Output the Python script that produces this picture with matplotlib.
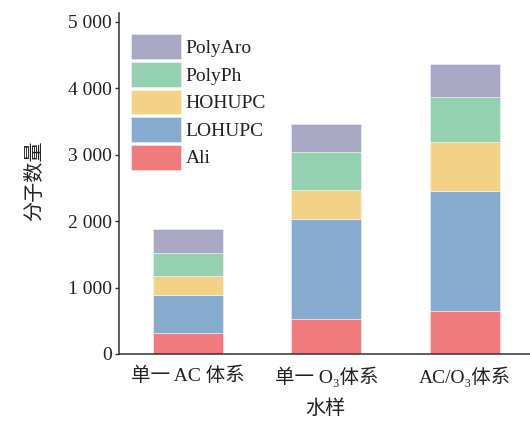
import numpy as np
import matplotlib
matplotlib.use("Agg")
import matplotlib.pyplot as plt
from matplotlib.ticker import FuncFormatter

# ---- data ----
groups = ["单一 AC 体系", "单一 O\u2083体系", "AC/O\u2083体系"]
series = ["Ali", "LOHUPC", "HOHUPC", "PolyPh", "PolyAro"]
ali = [320, 527, 648]
lohupc = [573, 1506, 1807]
hohupc = [277, 427, 727]
polyph = [351, 572, 688]
polyaro = [362, 427, 497]
colors = ["#F07A7C", "#86ABCE", "#F3D287", "#93D1B1", "#A8A8C4"]

SERIF = ["Liberation Serif", "Noto Sans CJK SC", "DejaVu Sans"]
plt.rcParams["font.family"] = SERIF

DPI = 100
fig = plt.figure(figsize=(530 / DPI, 430 / DPI), dpi=DPI, facecolor="white")
ax = fig.add_axes([119 / 530, 76 / 430, 411 / 530, 341 / 430])

x = np.arange(len(groups))
bottom = np.zeros(len(groups))
handles = []
for name, vals, col in zip(series, [ali, lohupc, hohupc, polyph, polyaro], colors):
    b = ax.bar(x, vals, width=0.505, bottom=bottom, color=col,
               edgecolor=(1, 1, 1, 0.5), linewidth=0.6, label=name)
    bottom += np.array(vals)
    handles.append(b)

ax.set_xlim(-0.498, 2.47)
ax.set_ylim(0, 5130)
ax.set_yticks([0, 1000, 2000, 3000, 4000, 5000])
ax.yaxis.set_major_formatter(FuncFormatter(
    lambda v, p: f"{int(v):,}".replace(",", " ")))
ax.set_xticks(x)
ax.set_xticklabels(groups)

for s in ("top", "right"):
    ax.spines[s].set_visible(False)
for s in ("left", "bottom"):
    ax.spines[s].set_color("#333333")
    ax.spines[s].set_linewidth(1.1)

ax.tick_params(axis="y", length=3, width=1.0, color="#333333", pad=2,
               labelsize=14, labelcolor="#222222")
ax.tick_params(axis="x", length=0, pad=9, labelsize=14, labelcolor="#222222")

ax.set_ylabel("分子数量", fontsize=14.5, color="#222222")
ax.yaxis.set_label_coords(-0.18, 0.507)
ax.set_xlabel("水样", fontsize=14.5, color="#222222")
ax.xaxis.set_label_coords(0.501, -0.135)

leg = ax.legend(handles[::-1], series[::-1], loc="upper left",
                bbox_to_anchor=(0.029, 0.937), frameon=False, fontsize=14,
                handlelength=2.6, handleheight=1.6, labelspacing=0.13,
                handletextpad=0.2, borderpad=0, borderaxespad=0)
for t in leg.get_texts():
    t.set_color("#222222")

fig.savefig("out.png", dpi=DPI)
